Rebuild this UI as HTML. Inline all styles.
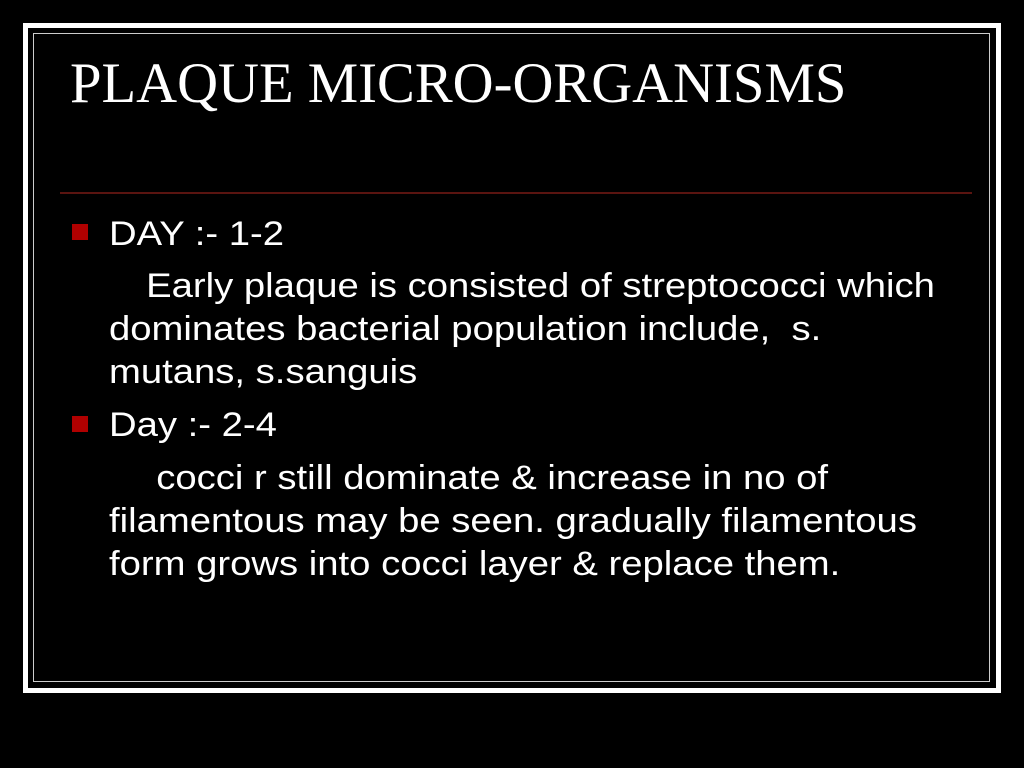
<!DOCTYPE html>
<html><head><meta charset="utf-8"><style>
html,body{margin:0;padding:0;background:#000;width:1024px;height:768px;overflow:hidden}
.outer{position:absolute;left:23px;top:23px;width:968px;height:660px;border:5px solid #fff}
.inner{position:absolute;left:33px;top:33px;width:955px;height:647px;border:1.5px solid #ccc}
.title{position:absolute;left:70px;top:51px;font-family:"Liberation Serif",serif;font-size:56.7px;line-height:66px;color:#fff;white-space:nowrap}
.rule{position:absolute;left:60px;top:192px;width:912px;height:2px;background:#5a1410}
.b{position:absolute;font-family:"Liberation Sans",sans-serif;font-size:34px;transform-origin:0 0;transform:scaleX(1.125);color:#fff;white-space:nowrap;line-height:43px}
.sq{position:absolute;left:72px;width:16px;height:16px;background:#b00000}
</style></head><body>
<div class="outer"></div>
<div class="inner"></div>
<div class="title">PLAQUE MICRO-ORGANISMS</div>
<div class="rule"></div>
<div class="sq" style="top:224px"></div>
<div class="b" style="left:109px;top:213px">DAY :- 1-2</div>
<div class="b" style="left:109px;top:265px"><span style="display:inline-block;width:33px"></span>Early plaque is consisted of streptococci which<br>dominates bacterial population include,&nbsp; s.<br>mutans, s.sanguis</div>
<div class="sq" style="top:416px"></div>
<div class="b" style="left:109px;top:404px">Day :- 2-4</div>
<div class="b" style="left:109px;top:457px"><span style="display:inline-block;width:42px"></span>cocci r still dominate &amp; increase in no of<br>filamentous may be seen. gradually filamentous<br>form grows into cocci layer &amp; replace them.</div>
</body></html>
